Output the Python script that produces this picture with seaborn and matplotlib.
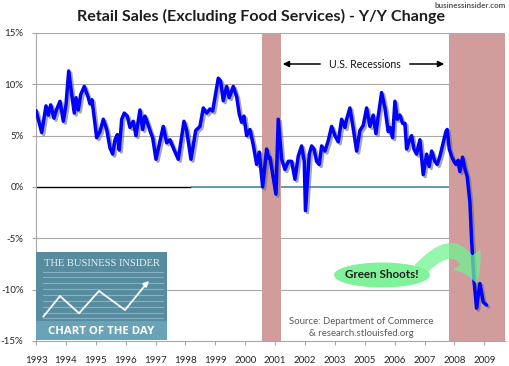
import numpy as np
import pandas as pd
import matplotlib as mpl
mpl.use('Agg')
import matplotlib.pyplot as plt
import matplotlib.patheffects as pe
from matplotlib.patches import Rectangle, Ellipse, FancyArrowPatch
import seaborn as sns

# x position in tick-label units (0 = "1993" label, 1 = next label, ...), values in % y/y
x_pos = [0.000, 0.191, 0.334, 0.411, 0.492, 0.602, 0.669, 0.803, 0.913, 1.003,
         1.094, 1.194, 1.281, 1.338, 1.415, 1.495, 1.615, 1.749, 1.806, 1.873,
         2.030, 2.141, 2.251, 2.365, 2.475, 2.565, 2.642, 2.720, 2.786, 2.867,
         2.954, 3.054, 3.144, 3.254, 3.344, 3.478, 3.569, 3.646, 3.722, 3.836,
         3.903, 4.014, 4.257, 4.371, 4.482, 4.593, 4.759, 4.950, 5.040, 5.184,
         5.342, 5.485, 5.596, 5.709, 5.819, 5.910, 5.987, 6.098, 6.177, 6.264,
         6.378, 6.466, 6.599, 6.713, 6.800, 6.879, 6.957, 7.047, 7.158, 7.268,
         7.382, 7.469, 7.582, 7.716, 7.783, 7.826, 7.937, 8.027, 8.104, 8.218,
         8.328, 8.439, 8.552, 8.663, 8.773, 8.886, 8.974, 9.014, 9.141, 9.221,
         9.298, 9.388, 9.475, 9.556, 9.666, 9.776, 9.890, 10.001, 10.110, 10.225,
         10.335, 10.391, 10.502, 10.612, 10.727, 10.836, 10.947, 11.061, 11.171, 11.281,
         11.372, 11.449, 11.562, 11.673, 11.783, 11.840, 11.930, 12.007, 12.085, 12.174,
         12.264, 12.342, 12.398, 12.485, 12.566, 12.643, 12.732, 12.843, 12.954, 13.068,
         13.154, 13.235, 13.345, 13.422, 13.513, 13.603, 13.713, 13.756, 13.824, 13.903,
         13.981, 14.047, 14.124, 14.181, 14.271, 14.348, 14.426, 14.516, 14.573, 14.649,
         14.739, 14.783, 14.850, 14.961, 15.074]
yoy_change = [7.45, 5.3, 7.9, 7.0, 8.0, 6.7, 7.4, 8.35, 6.4, 8.0,
              11.3, 9.0, 7.2, 8.7, 7.5, 9.0, 9.8, 8.7, 8.1, 8.5,
              4.8, 5.4, 6.6, 5.6, 3.8, 3.2, 4.6, 5.1, 3.6, 6.6,
              7.2, 6.9, 5.8, 6.4, 5.0, 7.5, 5.6, 6.9, 6.3, 5.3,
              4.8, 2.7, 5.9, 4.3, 4.6, 3.8, 2.7, 6.4, 5.5, 2.7,
              5.5, 5.9, 7.7, 7.2, 7.6, 7.4, 8.7, 10.6, 10.3, 8.4,
              9.8, 8.7, 9.8, 8.8, 7.1, 6.3, 6.9, 5.0, 5.6, 4.1,
              2.2, 3.4, 0.0, 3.7, 2.8, 2.9, 0.9, -0.7, 6.6, 2.7,
              1.7, 2.5, 2.5, 0.75, 3.0, 4.0, 2.5, -2.3, 3.2, 4.0,
              3.7, 2.5, 2.2, 4.0, 3.5, 4.5, 5.9, 5.0, 4.4, 6.6,
              5.8, 6.6, 7.7, 5.7, 3.5, 5.5, 6.0, 7.7, 5.9, 7.0,
              5.2, 6.9, 9.2, 7.7, 5.4, 5.8, 4.8, 8.35, 6.6, 7.0,
              6.2, 6.2, 3.7, 4.5, 5.0, 3.7, 3.2, 4.6, 1.2, 3.2,
              2.0, 3.5, 2.5, 2.2, 3.0, 4.1, 5.4, 5.6, 3.7, 3.0,
              2.5, 2.2, 2.6, 1.5, 2.9, 1.8, 1.0, -1.5, -5.2, -9.0,
              -11.8, -10.8, -9.4, -11.2, -11.5]
year_labels = ['1993', '1994', '1995', '1996', '1997', '1998', '1999', '2000', '2001',
               '2002', '2003', '2005', '2006', '2007', '2008', '2009']
recessions = [(7.56, 8.19), (13.81, 15.69)]
y_ticks = [-15, -10, -5, 0, 5, 10, 15]

df = pd.DataFrame({'pos': x_pos, 'change': yoy_change})

sns.set_style('white')
plt.rcParams['font.family'] = ['Lato', 'DejaVu Sans']

fig = plt.figure(figsize=(5.10, 3.66), dpi=100)
W, H = 510, 366
ax = fig.add_axes([36 / W, 1 - 341 / H, 469 / W, 308 / H])

for a, b in recessions:
    ax.axvspan(a, b, color='#D09C9C', lw=0, zorder=1)

for yv in [5, 10, 15, -5, -10]:
    ax.axhline(yv, color='#A8A8A8', lw=0.8, zorder=0.5)
# zero line: black at first, then teal (gaps where the recession bands sit)
ax.hlines(0, 0, 5.18, color='black', lw=1.0, zorder=2)
ax.hlines(0, 5.18, 7.56, color='#3F7F95', lw=1.1, zorder=2)
ax.hlines(0, 8.19, 13.81, color='#3F7F95', lw=1.1, zorder=2)

sns.lineplot(data=df, x='pos', y='change', color='#0000FF', lw=2.5,
             estimator=None, sort=False, ax=ax, zorder=3)
ax.lines[-1].set_path_effects([pe.SimpleLineShadow(offset=(1.4, -1.4), shadow_color='#6E6E6E', alpha=0.6),
                               pe.Normal()])

ax.set_xlim(0, 15.69)
ax.set_ylim(-15, 15)
ax.set_yticks(y_ticks)
ax.set_yticklabels([f'{v}%' for v in y_ticks])
ax.set_xticks(range(len(year_labels)))
ax.set_xticklabels(year_labels)
ax.set_xlabel('')
ax.set_ylabel('')
for s in ['top', 'right']:
    ax.spines[s].set_visible(False)
for s in ['left', 'bottom']:
    ax.spines[s].set_color('#A8A8A8')
    ax.spines[s].set_linewidth(0.8)
ax.tick_params(axis='both', which='both', length=3, width=0.8, color='#A8A8A8',
               labelsize=7.0, labelcolor='#262626', direction='out')
ax.tick_params(axis='x', pad=8)
ax.tick_params(axis='y', pad=6)
ax.tick_params(axis='both', left=True, bottom=True)

# overlay in pixel coordinates for annotations and logo
deco = fig.add_axes([0, 0, 1, 1], zorder=5)
deco.set_xlim(0, W)
deco.set_ylim(H, 0)
deco.axis('off')
deco.patch.set_alpha(0)

deco.text(261, 16, 'Retail Sales (Excluding Food Services) - Y/Y Change', ha='center', va='center',
          fontsize=11.6, fontweight='bold', color='#1E1E1E')
deco.text(506, 6, 'businessinsider.com', ha='right', va='center', fontsize=5.8,
          fontweight='bold', color='#555555')

deco.text(365, 64, 'U.S. Recessions', ha='center', va='center', fontsize=7.6, color='#111111')
deco.annotate('', xy=(280, 64), xytext=(323, 64),
              arrowprops=dict(arrowstyle='-|>', color='black', lw=1.1, mutation_scale=9))
deco.annotate('', xy=(447, 64), xytext=(407, 64),
              arrowprops=dict(arrowstyle='-|>', color='black', lw=1.1, mutation_scale=9))

deco.text(361, 321, 'Source: Department of Commerce', ha='center', va='center',
          fontsize=6.9, color='#595959')
deco.text(361, 333, '& research.stlouisfed.org', ha='center', va='center',
          fontsize=6.9, color='#595959')

# green shoots
arrow = FancyArrowPatch((420, 270), (477, 284), connectionstyle='arc3,rad=-0.9',
                        arrowstyle='simple,head_width=2.5,head_length=1.9,tail_width=1.05',
                        mutation_scale=10, color='#72F391', alpha=0.75, lw=0,
                        shrinkA=0, shrinkB=0)
deco.add_patch(arrow)
deco.add_patch(Ellipse((382, 275), 96, 25, color='#80F39A', lw=0))
deco.text(382, 275, 'Green Shoots!', ha='center', va='center', fontsize=8.4,
          fontweight='bold', color='#1E1E1E')

# chart of the day logo
deco.add_patch(Rectangle((36, 252), 131, 88, color='#578C9F', lw=0))
deco.add_patch(Rectangle((36, 321), 131, 19, color='#6AA2B7', lw=0))
for ly in [271.7, 277.3, 283.3, 289.3, 295, 301, 306.7, 312.7, 318.3]:
    deco.plot([43, 163], [ly, ly], color='#86B1C2', lw=0.8)
deco.text(102, 263, 'THE BUSINESS INSIDER', ha='center', va='center', fontsize=7.6,
          family='Liberation Serif', color='#E4EEF2')
zx = [43.3, 60, 79, 99, 125, 147]
zy = [316.7, 296, 313.3, 291, 310, 283]
deco.plot(zx, zy, color='white', lw=1.3)
deco.annotate('', xy=(151, 279), xytext=(144, 286),
              arrowprops=dict(arrowstyle='-|>', color='white', lw=1.2, mutation_scale=8))
deco.text(101, 331.5, 'CHART OF THE DAY', ha='center', va='center', fontsize=8.2,
          fontweight='bold', family='Open Sans', color='white')

fig.savefig('out.png', dpi=100)
